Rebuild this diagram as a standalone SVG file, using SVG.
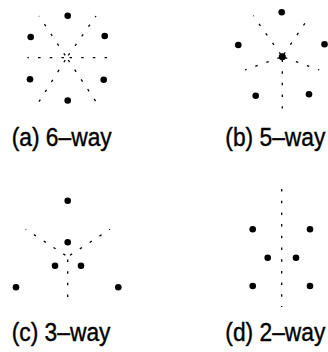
<svg xmlns="http://www.w3.org/2000/svg" width="328" height="352" viewBox="0 0 328 352">
<style>
.ray{stroke:#000;stroke-width:1.3;fill:none;stroke-dasharray:2.5 9.2;stroke-dashoffset:8.95}
.dot{fill:#000}
.lbl{font-family:"Liberation Sans",Arial,sans-serif;font-size:22.8px;fill:#000;stroke:#000;stroke-width:0.35}
</style>
<rect width="328" height="352" fill="#fff"/>
<g id="connectors">
<!-- (a) -->
<line class="ray" x1="66.7" y1="57.7" x2="27.5" y2="57.7"/>
<line class="ray" x1="66.7" y1="57.7" x2="107.5" y2="57.7"/>
<line class="ray" x1="66.7" y1="57.7" x2="39" y2="16"/>
<line class="ray" x1="66.7" y1="57.7" x2="96" y2="16"/>
<line class="ray" x1="66.7" y1="57.7" x2="39" y2="101.7"/>
<line class="ray" x1="66.7" y1="57.7" x2="96" y2="101.7"/>
<!-- (b) -->
<line class="ray" x1="282.3" y1="56.7" x2="253.3" y2="15.7"/>
<line class="ray" x1="282.3" y1="56.7" x2="310" y2="15.7"/>
<line class="ray" x1="282.3" y1="56.7" x2="245" y2="70"/>
<line class="ray" x1="282.3" y1="56.7" x2="319.3" y2="70"/>
<line class="ray" x1="282.3" y1="56.7" x2="282.3" y2="108.5"/>
<!-- (c) -->
<line class="ray" x1="67.7" y1="256.7" x2="25.7" y2="229.3"/>
<line class="ray" x1="67.7" y1="256.7" x2="110" y2="229.3"/>
<line class="ray" x1="67.7" y1="256.7" x2="67.7" y2="297.5"/>
<!-- (d) -->
<line class="ray" x1="281.7" y1="189" x2="281.7" y2="307" style="stroke-dashoffset:0"/>
</g>
<g id="panel-a">
<circle class="dot" cx="67.7" cy="15.7" r="3.3"/>
<circle class="dot" cx="30.7" cy="37" r="3.3"/>
<circle class="dot" cx="104.7" cy="36" r="3.3"/>
<circle class="dot" cx="30" cy="79.3" r="3.3"/>
<circle class="dot" cx="103.7" cy="79.7" r="3.3"/>
<circle class="dot" cx="67.7" cy="100.5" r="3.3"/>
<text class="lbl" transform="translate(11.7,146) scale(1,1.12)">(a) 6–way</text>
</g>
<g id="panel-b">
<circle class="dot" cx="281.7" cy="12.3" r="3.3"/>
<circle class="dot" cx="238.3" cy="45" r="3.3"/>
<circle class="dot" cx="324.5" cy="44.3" r="3.3"/>
<circle class="dot" cx="282.3" cy="56.7" r="3.5"/>
<circle class="dot" cx="255.7" cy="95.7" r="3.3"/>
<circle class="dot" cx="309" cy="94.3" r="3.3"/>
<text class="lbl" transform="translate(225.3,146) scale(1,1.12)">(b) 5–way</text>
</g>
<g id="panel-c">
<circle class="dot" cx="67.7" cy="200.7" r="3.3"/>
<circle class="dot" cx="67.7" cy="242.3" r="3.3"/>
<circle class="dot" cx="55" cy="265.7" r="3.3"/>
<circle class="dot" cx="81" cy="265.7" r="3.3"/>
<circle class="dot" cx="16" cy="287.3" r="3.3"/>
<circle class="dot" cx="118.3" cy="287.3" r="3.3"/>
<text class="lbl" transform="translate(11.7,341) scale(1,1.12)">(c) 3–way</text>
</g>
<g id="panel-d">
<circle class="dot" cx="252.7" cy="229.3" r="3.3"/>
<circle class="dot" cx="310" cy="229.3" r="3.3"/>
<circle class="dot" cx="267.7" cy="257.7" r="3.3"/>
<circle class="dot" cx="296" cy="257.7" r="3.3"/>
<circle class="dot" cx="252.7" cy="286" r="3.3"/>
<circle class="dot" cx="310" cy="286" r="3.3"/>
<text class="lbl" transform="translate(225.3,341) scale(1,1.12)">(d) 2–way</text>
</g>
</svg>
